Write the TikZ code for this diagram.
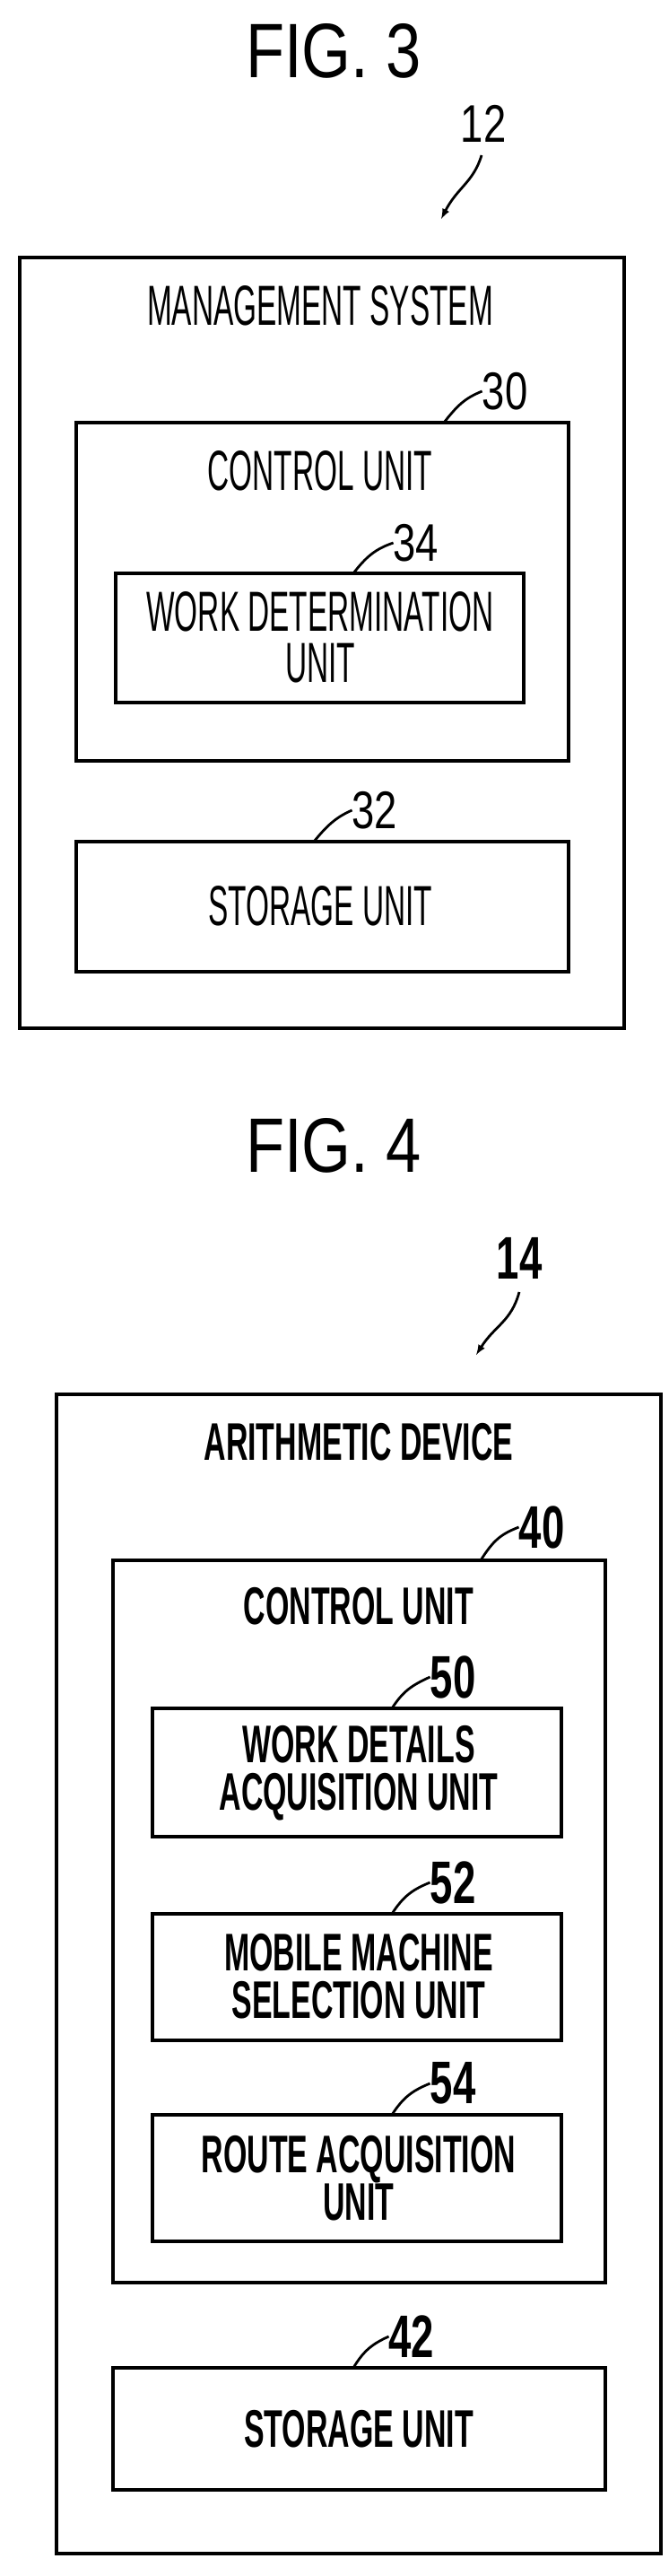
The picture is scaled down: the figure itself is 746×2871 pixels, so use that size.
\documentclass[tikz,border=0pt]{standalone}
\usepackage{fontspec}
\setmainfont{Liberation Sans}
\begin{document}
\begin{tikzpicture}[x=1pt,y=-1pt,
  box/.style={draw,line width=3.2pt},
  lead/.style={line width=2.8pt},
  big/.style={font=\fontsize{86}{90}\selectfont,xscale=0.82,transform shape,inner sep=0pt},
  tA/.style={font=\fontsize{63}{57}\selectfont,align=center,inner sep=0pt,xscale=0.53,transform shape},
  tB/.style={font=\bfseries\fontsize{59}{53}\selectfont,align=center,inner sep=0pt,xscale=0.575,transform shape},
  numA/.style={font=\fontsize{59}{60}\selectfont,inner sep=0pt,xscale=0.77,transform shape},
  numB/.style={font=\bfseries\fontsize{67}{68}\selectfont,inner sep=0pt,xscale=0.68,transform shape}]
\useasboundingbox (0,0) rectangle (746,2871);
% FIG 3
\node[big] (f3) at (372,57) {FIG. 3};
\node[numA] (n12) at (539,138) {12};
\coordinate (a12s) at (537,173);
\coordinate (a12e) at (492,244);
\draw[lead,-latex] (a12s) .. controls (528,203) and (510,209) .. (a12e);
\draw[box] (22,287) rectangle (696,1146);
\node[tA] (ms) at (357,341) {MANAGEMENT SYSTEM};
\draw[box] (85,471) rectangle (634,848);
\node[numA] (n30) at (563,436) {30};
\coordinate (l30) at (495,471);
\draw[lead] (l30) .. controls (510,452) and (518,444) .. (n30.west);
\node[tA] (cu3) at (357,525) {CONTROL UNIT};
\draw[box] (129,639) rectangle (584,783);
\node[tA] (wdu) at (357,710) {WORK DETERMINATION\\UNIT};
\node[numA] (n34) at (464,605) {34};
\coordinate (l34) at (394,639);
\draw[lead] (l34) .. controls (408,621) and (418,612) .. (n34.west);
\draw[box] (85,938) rectangle (634,1083);
\node[tA] (su3) at (357,1010) {STORAGE UNIT};
\node[numA] (n32) at (418,903) {32};
\coordinate (l32) at (350,938);
\draw[lead] (l32) .. controls (364,921) and (374,911) .. (n32.west);
% FIG 4
\node[big] (f4) at (372,1277) {FIG. 4};
\node[numB] (n14) at (579,1402) {14};
\coordinate (a14s) at (579,1440);
\coordinate (a14e) at (531,1510);
\draw[lead,-latex] (a14s) .. controls (570,1473) and (552,1477) .. (a14e);
\draw[box] (63,1554) rectangle (737,2846);
\node[tB] (ad) at (400,1607) {ARITHMETIC DEVICE};
\draw[box] (126,1739) rectangle (675,2544);
\node[numB] (n40) at (604,1702) {40};
\coordinate (l40) at (536,1739);
\draw[lead] (l40) .. controls (550,1717) and (558,1710) .. (n40.west);
\node[tB] (cu4) at (400,1790) {CONTROL UNIT};
\draw[box] (170,1904) rectangle (626,2047);
\node[tB] (wd) at (400,1976) {WORK DETAILS\\ACQUISITION UNIT};
\node[numB] (n50) at (505,1869) {50};
\coordinate (l50) at (437,1904);
\draw[lead] (l50) .. controls (450,1884) and (460,1878) .. (n50.west);
\draw[box] (170,2133) rectangle (626,2274);
\node[tB] (mm) at (400,2203) {MOBILE MACHINE\\SELECTION UNIT};
\node[numB] (n52) at (505,2098) {52};
\coordinate (l52) at (437,2133);
\draw[lead] (l52) .. controls (450,2113) and (460,2106) .. (n52.west);
\draw[box] (170,2357) rectangle (626,2498);
\node[tB] (ra) at (400,2428) {ROUTE ACQUISITION\\UNIT};
\node[numB] (n54) at (505,2322) {54};
\coordinate (l54) at (437,2357);
\draw[lead] (l54) .. controls (450,2337) and (460,2330) .. (n54.west);
\draw[box] (126,2639) rectangle (675,2775);
\node[tB] (su4) at (400,2707) {STORAGE UNIT};
\node[numB] (n42) at (459,2604) {42};
\coordinate (l42) at (394,2639);
\draw[lead] (l42) .. controls (406,2619) and (416,2612) .. (n42.west);
\end{tikzpicture}
\end{document}
